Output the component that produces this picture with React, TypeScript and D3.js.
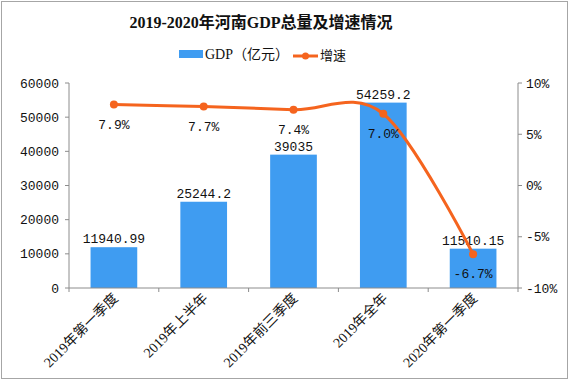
import React from "react";
import * as d3 from "d3";

const categories = ["2019年第一季度", "2019年上半年", "2019年前三季度", "2019年全年", "2020年第一季度"];
const gdpValues = [11940.99, 25244.2, 39035, 54259.2, 11510.15];
const gdpLabels = ["11940.99", "25244.2", "39035", "54259.2", "11510.15"];
const growthValues = [7.9, 7.7, 7.4, 7.0, -6.7];
const growthLabels = ["7.9%", "7.7%", "7.4%", "7.0%", "-6.7%"];
const leftTicks = [0, 10000, 20000, 30000, 40000, 50000, 60000];
const rightTicks = [-10, -5, 0, 5, 10];

const W = 570, H = 383;
const M = { left: 69, right: 518, top: 83, bottom: 288 };
const BAR = "#3F9CF1";
const LINE = "#F5641E";
const AXIS = "#8C8C8C";
const NUM_FONT = "'Liberation Mono', 'DejaVu Sans Mono', monospace";
const CJK_FONT = "'Liberation Serif', 'Noto Sans CJK SC', serif";

export default function App() {
  const x = d3.scaleBand<string>().domain(categories).range([M.left, M.right]).paddingInner(0).paddingOuter(0);
  const yL = d3.scaleLinear().domain([0, 60000]).range([M.bottom, M.top]);
  const yR = d3.scaleLinear().domain([-10, 10]).range([M.bottom, M.top]);
  const bw = x.bandwidth() * 0.52;
  const cx = (c: string) => (x(c) as number) + x.bandwidth() / 2;

  const pts: [number, number][] = categories.map((c, i) => [cx(c), yR(growthValues[i])]);
  const lineGen = d3.line<[number, number]>().curve(d3.curveCatmullRom.alpha(0));
  const path = lineGen(pts) || "";

  return (
    <svg width={W} height={H} style={{ position: "absolute", left: 0, top: 0, background: "#fff" }}>
      <rect x={1.5} y={1.5} width={566} height={377} fill="#fff" stroke="#A6A6A6" strokeWidth={1} />
      <text x={261} y={28} textAnchor="middle" fontSize={16} fontWeight="bold" fontFamily={CJK_FONT} fill="#111">
        2019-2020年河南GDP总量及增速情况
      </text>
      {/* legend */}
      <rect x={179} y={50} width={24} height={8} fill={BAR} />
      <text x={205} y={59} fontSize={14} fontFamily={CJK_FONT} fill="#111">GDP（亿元）</text>
      <line x1={293} x2={318} y1={56} y2={56} stroke={LINE} strokeWidth={3} />
      <circle cx={305.5} cy={56} r={3.5} fill={LINE} />
      <text x={320} y={60} fontSize={13} fontFamily={CJK_FONT} fill="#111">增速</text>

      {/* bars */}
      {categories.map((c, i) => (
        <rect key={c} x={cx(c) - bw / 2} y={yL(gdpValues[i])} width={bw} height={yL(0) - yL(gdpValues[i])} fill={BAR} />
      ))}

      {/* left axis */}
      <line x1={M.left} x2={M.left} y1={M.top} y2={M.bottom} stroke={AXIS} />
      {leftTicks.map((t) => (
        <g key={t}>
          <line x1={M.left - 4} x2={M.left} y1={yL(t)} y2={yL(t)} stroke={AXIS} />
          <text x={M.left - 10} y={yL(t) + 4.5} textAnchor="end" fontSize={13} fontFamily={NUM_FONT} fill="#111">{t}</text>
        </g>
      ))}
      {/* right axis */}
      <line x1={M.right} x2={M.right} y1={M.top} y2={M.bottom} stroke={AXIS} />
      {rightTicks.map((t) => (
        <g key={t}>
          <line x1={M.right} x2={M.right + 4} y1={yR(t)} y2={yR(t)} stroke={AXIS} />
          <text x={M.right + 8} y={yR(t) + 4.5} textAnchor="start" fontSize={13} fontFamily={NUM_FONT} fill="#111">{t}%</text>
        </g>
      ))}
      {/* bottom axis */}
      <line x1={M.left} x2={M.right} y1={M.bottom} y2={M.bottom} stroke={AXIS} />
      {categories.map((c) => (
        <line key={c} x1={x(c) as number} x2={x(c) as number} y1={M.bottom} y2={M.bottom + 4} stroke={AXIS} />
      ))}
      <line x1={M.right} x2={M.right} y1={M.bottom} y2={M.bottom + 4} stroke={AXIS} />
      {categories.map((c) => (
        <text key={c} transform={`translate(${cx(c) + 5},${M.bottom + 11}) rotate(-45)`} textAnchor="end" fontSize={14} fontFamily={CJK_FONT} fill="#111">
          {c}
        </text>
      ))}

      {/* bar labels */}
      {categories.map((c, i) => (
        <text key={c} x={cx(c)} y={yL(gdpValues[i]) - 4} textAnchor="middle" fontSize={13} fontFamily={NUM_FONT} fill="#111">
          {gdpLabels[i]}
        </text>
      ))}

      {/* line */}
      <path d={path} fill="none" stroke={LINE} strokeWidth={3} />
      {pts.map((p, i) => (
        <circle key={i} cx={p[0]} cy={p[1]} r={4} fill={LINE} />
      ))}
      {pts.map((p, i) => (
        <text key={i} x={p[0]} y={p[1] + 24} textAnchor="middle" fontSize={13} fontFamily={NUM_FONT} fill="#111">
          {growthLabels[i]}
        </text>
      ))}
    </svg>
  );
}
